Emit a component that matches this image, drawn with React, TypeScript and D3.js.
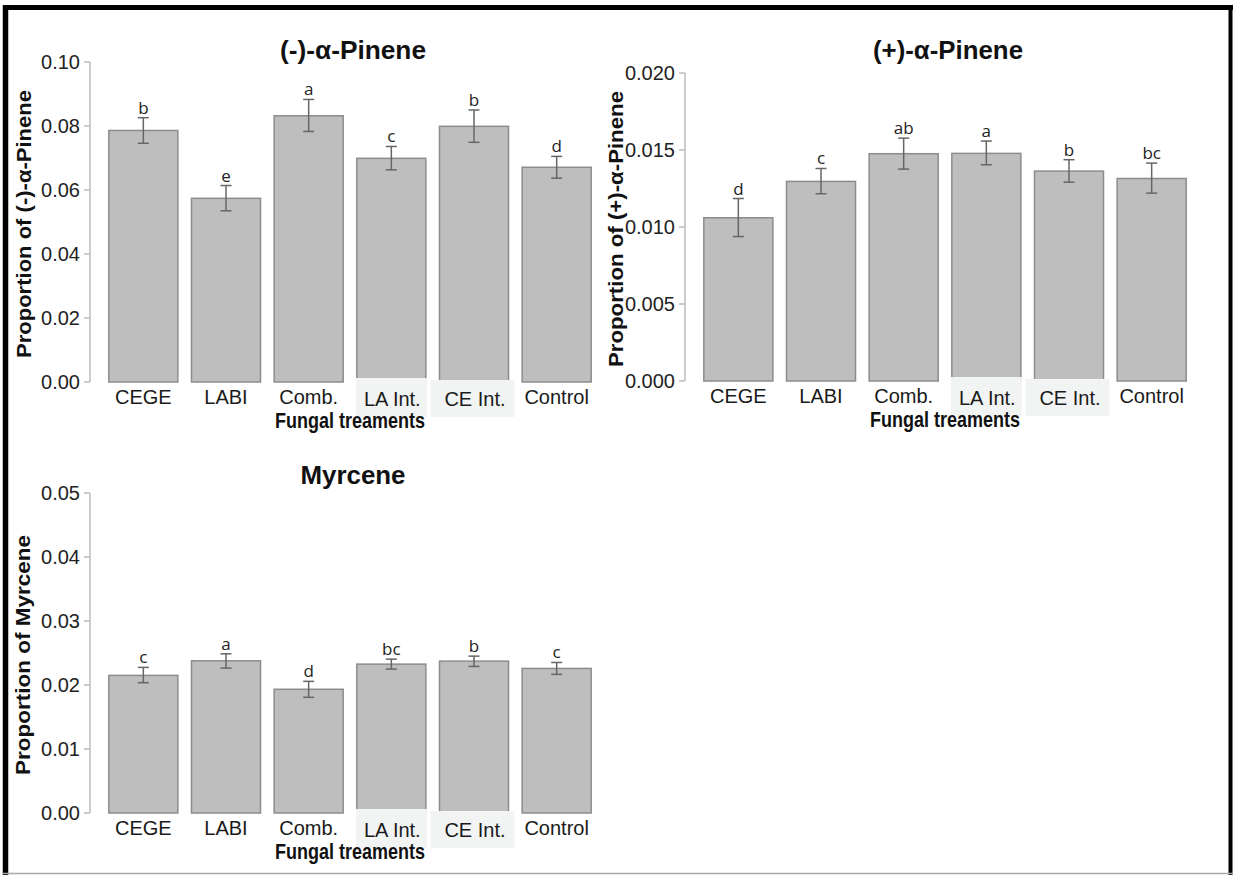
import React from "react";
import * as d3 from "d3";

const categories = ["CEGE", "LABI", "Comb.", "LA Int.", "CE Int.", "Control"];

// (-)-alpha-Pinene
const minusMeans = [0.0786, 0.0574, 0.0832, 0.0699, 0.0799, 0.0671];
const minusLow = [0.0746, 0.0535, 0.0783, 0.0663, 0.0749, 0.0637];
const minusHigh = [0.0826, 0.0614, 0.0883, 0.0736, 0.085, 0.0705];
const minusLetters = ["b", "e", "a", "c", "b", "d"];
const minusTicks = [0, 0.02, 0.04, 0.06, 0.08, 0.1];

// (+)-alpha-Pinene
const plusMeans = [0.0106, 0.01296, 0.01476, 0.01478, 0.01363, 0.01315];
const plusLow = [0.00938, 0.01216, 0.01376, 0.01404, 0.01291, 0.0122];
const plusHigh = [0.01185, 0.0138, 0.01577, 0.01558, 0.01437, 0.01415];
const plusLetters = ["d", "c", "ab", "a", "b", "bc"];
const plusTicks = [0, 0.005, 0.01, 0.015, 0.02];

// Myrcene
const myrMeans = [0.0215, 0.02378, 0.01933, 0.02326, 0.02373, 0.02259];
const myrLow = [0.02036, 0.02264, 0.01808, 0.02249, 0.0229, 0.02166];
const myrHigh = [0.02275, 0.02487, 0.02057, 0.02404, 0.02451, 0.02352];
const myrLetters = ["c", "a", "d", "bc", "b", "c"];
const myrTicks = [0, 0.01, 0.02, 0.03, 0.04, 0.05];

const panels = [
  {
    title: "(-)-α-Pinene", titleLen: 146, titleY: 59, yTitle: "Proportion of (-)-α-Pinene", yTitleLen: 268,
    means: minusMeans, low: minusLow, high: minusHigh, letters: minusLetters,
    ticks: minusTicks, fmt: ".2f", max: 0.1,
    axisX: 90, y0: 382, yTop: 62, yTitleX: 24,
  },
  {
    title: "(+)-α-Pinene", titleLen: 150, titleY: 59, yTitle: "Proportion of (+)-α-Pinene", yTitleLen: 276,
    means: plusMeans, low: plusLow, high: plusHigh, letters: plusLetters,
    ticks: plusTicks, fmt: ".3f", max: 0.02,
    axisX: 685, y0: 381, yTop: 73, yTitleX: 616,
  },
  {
    title: "Myrcene", titleLen: 105, titleY: 484, yTitle: "Proportion of Myrcene", yTitleLen: 240,
    means: myrMeans, low: myrLow, high: myrHigh, letters: myrLetters,
    ticks: myrTicks, fmt: ".2f", max: 0.05,
    axisX: 90, y0: 813, yTop: 493, yTitleX: 23,
  },
];

const SANS = "Arial, 'Liberation Sans', Helvetica, sans-serif";
const NARROW = "'Liberation Sans Narrow', 'Open Sans', Arial, sans-serif";

function Panel({ p }: { p: any }) {
  const x = d3
    .scaleBand<string>()
    .domain(categories)
    .range([p.axisX + 12, p.axisX + 508])
    .paddingInner(0.165)
    .paddingOuter(0.0825);
  const y = d3.scaleLinear().domain([0, p.max]).range([p.y0, p.yTop]);
  const fmt = d3.format(p.fmt);
  const bw = x.bandwidth();
  const cx = (p.axisX + 12 + p.axisX + 508) / 2;
  return (
    <g>
      {/* title */}
      <text x={cx + 3} y={p.titleY} textAnchor="middle" fontFamily={SANS} fontWeight="bold" fontSize={25}
        textLength={p.titleLen} lengthAdjust="spacingAndGlyphs" fill="#111">{p.title}</text>
      {/* y axis title */}
      <text transform={`translate(${p.yTitleX + 7},${(p.y0 + p.yTop) / 2 + 2}) rotate(-90)`} textAnchor="middle"
        fontFamily={SANS} fontWeight="bold" fontSize={20.5} textLength={p.yTitleLen} lengthAdjust="spacingAndGlyphs"
        fill="#111">{p.yTitle}</text>
      {/* y axis */}
      <line x1={p.axisX} x2={p.axisX} y1={y(p.max)} y2={y(0)} stroke="#bdbdbd" strokeWidth={1.5} />
      {p.ticks.map((t: number) => (
        <g key={t}>
          <line x1={p.axisX - 6} x2={p.axisX} y1={y(t)} y2={y(t)} stroke="#bdbdbd" strokeWidth={1.5} />
          <text x={p.axisX - 10} y={y(t)} dy="0.36em" textAnchor="end" fontFamily={SANS} fontSize={20} fill="#222">
            {fmt(t)}
          </text>
        </g>
      ))}
      {/* bars */}
      {categories.map((c, i) => (
        <rect key={c} x={x(c)!} y={y(p.means[i])} width={bw} height={y(0) - y(p.means[i])}
          fill="#bebebe" stroke="#8c8c8c" strokeWidth={1.5} />
      ))}
      {/* label background patches */}
      <rect x={x("LA Int.")! - 1} y={p.y0 - 4} width={bw + 2} height={39} fill="#f2f4f4" />
      <rect x={x("CE Int.")! - 9} y={p.y0 - 2} width={bw + 15} height={37} fill="#f2f4f4" />
      {/* error bars */}
      {categories.map((c, i) => {
        const mx = x(c)! + bw / 2;
        return (
          <g key={c} stroke="#666" strokeWidth={1.5}>
            <line x1={mx} x2={mx} y1={y(p.high[i])} y2={y(p.low[i])} />
            <line x1={mx - 5.5} x2={mx + 5.5} y1={y(p.high[i])} y2={y(p.high[i])} />
            <line x1={mx - 5.5} x2={mx + 5.5} y1={y(p.low[i])} y2={y(p.low[i])} />
          </g>
        );
      })}
      {/* letters */}
      {categories.map((c, i) => (
        <text key={c} x={x(c)! + bw / 2} y={y(p.high[i]) - 4} textAnchor="middle" fontFamily={NARROW}
          fontSize={17} fill="#222">{p.letters[i]}</text>
      ))}
      {/* x tick labels */}
      {categories.map((c) => {
        const shifted = c === "LA Int." || c === "CE Int.";
        return (
          <text key={c} x={x(c)! + bw / 2 + (shifted ? 1 : 0)} y={p.y0 + (shifted ? 24 : 22)} textAnchor="middle"
            fontFamily={SANS} fontSize={20} fill="#1a1a1a">{c}</text>
        );
      })}
      {/* x axis title */}
      <text x={cx} y={p.y0 + 46} textAnchor="middle" fontFamily={SANS} fontWeight="bold" fontSize={22}
        textLength={150} lengthAdjust="spacingAndGlyphs" fill="#111">Fungal treaments</text>
    </g>
  );
}

export default function App() {
  return (
    <svg width={1235} height={875} style={{ position: "absolute", left: 0, top: 0, display: "block", background: "#fff" }}>
      <rect x={0} y={0} width={1235} height={875} fill="#fff" />
      {panels.map((p, i) => (
        <Panel key={i} p={p} />
      ))}
      {/* frame */}
      <line x1={3} x2={1233} y1={7.5} y2={7.5} stroke="#000" strokeWidth={5} />
      <line x1={5.5} x2={5.5} y1={5} y2={875} stroke="#000" strokeWidth={5.5} />
      <line x1={1230.5} x2={1230.5} y1={5} y2={875} stroke="#000" strokeWidth={4} />
      <line x1={3} x2={1233} y1={873.5} y2={873.5} stroke="#aaa" strokeWidth={1.5} />
    </svg>
  );
}
